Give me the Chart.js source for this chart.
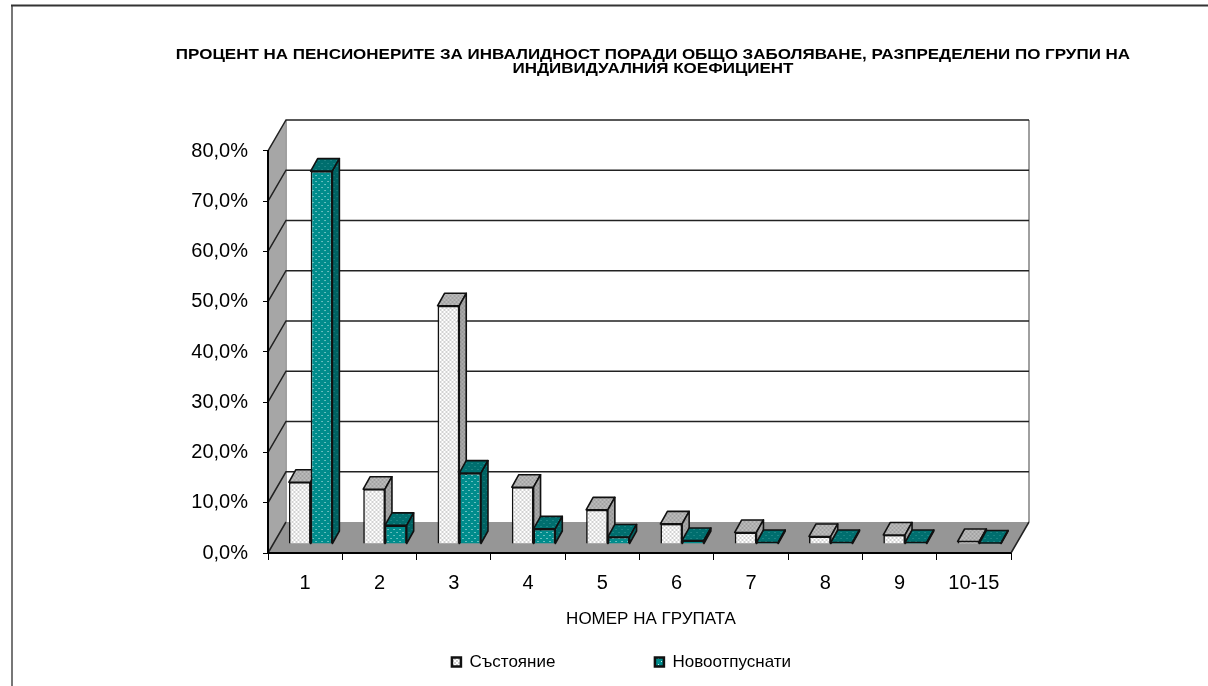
<!DOCTYPE html>
<html>
<head>
<meta charset="utf-8">
<style>
  html, body { margin: 0; padding: 0; background: #fff; overflow: hidden; }
  canvas { display: block; }
</style>
<script src="https://cdn.jsdelivr.net/npm/chart.js@4/dist/chart.umd.min.js"></script>
</head>
<body>
<canvas id="chart" width="1208" height="686"></canvas>
<script>
const categories = ['1', '2', '3', '4', '5', '6', '7', '8', '9', '10-15'];
const sastoyanie = [12.3, 10.9, 47.4, 11.3, 6.8, 4.0, 2.3, 1.5, 1.8, 0.5];
const novootpusnati = [74.2, 3.7, 14.1, 3.0, 1.4, 0.7, 0.3, 0.3, 0.3, 0.2];
const titleLines = [
  'ПРОЦЕНТ НА ПЕНСИОНЕРИТЕ ЗА ИНВАЛИДНОСТ ПОРАДИ ОБЩО ЗАБОЛЯВАНЕ, РАЗПРЕДЕЛЕНИ ПО ГРУПИ НА',
  'ИНДИВИДУАЛНИЯ КОЕФИЦИЕНТ'
];

const FONT = '"Liberation Sans", Arial, sans-serif';

// --- Fill patterns ---
function checker(base, dark) {
  const c = document.createElement('canvas');
  c.width = c.height = 4;
  const g = c.getContext('2d');
  g.fillStyle = base;
  g.fillRect(0, 0, 4, 4);
  g.fillStyle = dark;
  g.fillRect(0, 0, 2, 2);
  g.fillRect(2, 2, 2, 2);
  return g.createPattern(c, 'repeat');
}

function dots(base, dot) {
  const c = document.createElement('canvas');
  c.width = 6;
  c.height = 6;
  const g = c.getContext('2d');
  g.fillStyle = base;
  g.fillRect(0, 0, 6, 6);
  g.fillStyle = dot;
  g.fillRect(1, 1, 1, 1);
  g.fillRect(4, 4, 1, 1);
  return g.createPattern(c, 'repeat');
}

const patGrayFront = checker('#ffffff', '#d2d2d2');
const patGrayTop = checker('#bcbcbc', '#a2a2a2');
const patGraySide = checker('#acacac', '#969696');
const patTealFront = dots('#008c8c', '#d4f2f2');
const patTealTop = dots('#006e6e', '#3c9a9a');
const patTealSide = dots('#006262', '#2f8a8a');

// --- 3D box: back wall, side wall, floor and the depth faces of the bars ---
const WALL_DX = 18, WALL_DY = -31;
const BAR_DX = 5.5, BAR_DY = -9;
const DEPTH_DX = 7, DEPTH_DY = -12.5;
const TITLE_CX = 653, TITLE_STRETCH = 1.133;

function poly(c, pts, fill, stroke, lw) {
  c.beginPath();
  pts.forEach((p, i) => i ? c.lineTo(p[0], p[1]) : c.moveTo(p[0], p[1]));
  c.closePath();
  c.fillStyle = fill;
  c.fill();
  if (stroke) {
    c.strokeStyle = stroke;
    c.lineWidth = lw;
    c.lineJoin = 'round';
    c.stroke();
  }
}

const frame3d = {
  id: 'frame3d',
  afterLayout(chart) {
    // title, legend and axis title sit off the plot centre in the original
    const t = chart.titleBlock;
    t.left = 100;
    t.right = 1206;
    if (!t.stretched) {
      // the original title is wider than its height would give
      const draw = t.draw;
      t.draw = function () {
        const c = this.ctx;
        c.save();
        c.translate(TITLE_CX, 0);
        c.scale(TITLE_STRETCH, 1);
        c.translate(-TITLE_CX, 0);
        draw.call(this);
        c.restore();
      };
      t.stretched = true;
    }
    chart.legend.left = 232;
    chart.legend.right = 1011;
    chart.legend.top = 554;
    chart.scales.x.right += 23;
  },
  beforeDraw(chart) {
    const c = chart.ctx;
    const a = chart.chartArea;
    const y = chart.scales.y;
    c.save();
    // outer frame, cut off right and below in the original
    c.lineWidth = 2;
    c.strokeStyle = '#777';
    c.beginPath();
    c.moveTo(12, 5);
    c.lineTo(12, 686);
    c.stroke();
    c.strokeStyle = '#333';
    c.beginPath();
    c.moveTo(11, 5.5);
    c.lineTo(1208, 5.5);
    c.stroke();

    poly(c, [[a.left, a.top], [a.left + WALL_DX, a.top + WALL_DY], [a.left + WALL_DX, a.bottom + WALL_DY], [a.left, a.bottom]], '#a6a6a6');
    poly(c, [[a.left, a.bottom], [a.left + WALL_DX, a.bottom + WALL_DY], [a.right + WALL_DX, a.bottom + WALL_DY], [a.right, a.bottom]], '#969696');

    c.strokeStyle = '#a0a0a0';
    c.lineWidth = 2;
    c.beginPath();
    c.moveTo(a.right + WALL_DX, a.top + WALL_DY);
    c.lineTo(a.right + WALL_DX, a.bottom + WALL_DY);
    c.moveTo(a.left + WALL_DX, a.top + WALL_DY);
    c.lineTo(a.left + WALL_DX, a.bottom + WALL_DY);
    c.stroke();

    c.strokeStyle = '#222';
    c.lineWidth = 1.5;
    y.ticks.forEach(t => {
      const py = y.getPixelForValue(t.value);
      c.beginPath();
      if (t.value > 0) {
        c.moveTo(a.right + WALL_DX, py + WALL_DY);
        c.lineTo(a.left + WALL_DX, py + WALL_DY);
      } else {
        c.moveTo(a.right, py);
        c.lineTo(a.right + WALL_DX, py + WALL_DY);
        c.moveTo(a.left + WALL_DX, py + WALL_DY);
      }
      c.lineTo(a.left, py);
      c.stroke();
    });
    c.strokeStyle = '#000';
    c.lineWidth = 2;
    c.beginPath();
    c.moveTo(a.left, a.bottom);
    c.lineTo(a.right, a.bottom);
    c.stroke();
    c.restore();
  },
  beforeDatasetsDraw(chart) {
    const c = chart.ctx;
    const faces = [[patGrayTop, patGraySide], [patTealTop, patTealSide]];
    c.save();
    c.translate(BAR_DX, BAR_DY);
    chart.data.datasets.forEach((ds, i) => {
      chart.getDatasetMeta(i).data.forEach(el => {
        const { x, y, base, width } = el.getProps(['x', 'y', 'base', 'width']);
        const l = x - width / 2, r = x + width / 2;
        poly(c, [[l, y], [l + DEPTH_DX, y + DEPTH_DY], [r + DEPTH_DX, y + DEPTH_DY], [r, y]], faces[i][0], '#111', 1.6);
        poly(c, [[r, y], [r + DEPTH_DX, y + DEPTH_DY], [r + DEPTH_DX, base + DEPTH_DY], [r, base]], faces[i][1], '#111', 1.6);
      });
    });
    c.restore();
  },
  beforeDatasetDraw(chart) {
    chart.ctx.save();
    chart.ctx.translate(BAR_DX, BAR_DY);
  },
  afterDatasetDraw(chart) {
    chart.ctx.restore();
  }
};

// --- Chart ---
new Chart(document.getElementById('chart'), {
  type: 'bar',
  plugins: [frame3d],
  data: {
    labels: categories,
    datasets: [
      { label: 'Състояние', data: sastoyanie, backgroundColor: patGrayFront, borderColor: '#111', borderWidth: 1.6, clip: false },
      { label: 'Новоотпуснати', data: novootpusnati, backgroundColor: patTealFront, borderColor: '#111', borderWidth: 1.6, clip: false }
    ]
  },
  options: {
    responsive: false,
    animation: false,
    events: [],
    layout: { padding: { left: 0, right: 197, top: 0, bottom: 0 } },
    datasets: { bar: { barPercentage: 1, categoryPercentage: 0.585 } },
    plugins: {
      tooltip: { enabled: false },
      title: {
        display: true,
        text: titleLines,
        color: '#000',
        font: { family: FONT, size: 15, weight: 'bold', lineHeight: 0.933 },
        padding: { top: 48, bottom: 75 }
      },
      legend: {
        position: 'bottom',
        maxHeight: 30,
        labels: {
          color: '#000',
          font: { family: FONT, size: 17 },
          boxWidth: 9,
          boxHeight: 9,
          padding: 99.5,
          generateLabels: c => Chart.defaults.plugins.legend.labels.generateLabels(c).map(l => ({ ...l, lineWidth: 2.5 }))
        }
      }
    },
    scales: {
      x: {
        grid: { display: true, drawOnChartArea: false, color: '#000', tickLength: 7 },
        border: { display: false },
        ticks: { color: '#000', font: { family: FONT, size: 20 }, padding: 11, maxRotation: 0 },
        title: {
          display: true,
          text: 'НОМЕР НА ГРУПАТА',
          color: '#000',
          font: { family: FONT, size: 17 },
          padding: { top: 14, bottom: 26 }
        },
        afterFit(s) { s.height = 103; }
      },
      y: {
        min: 0,
        max: 80,
        grid: { display: true, drawOnChartArea: false, color: '#000', tickLength: 5 },
        border: { color: '#000', width: 2 },
        ticks: {
          stepSize: 10,
          color: '#000',
          font: { family: FONT, size: 20 },
          padding: 15,
          callback: v => v.toFixed(1).replace('.', ',') + '%'
        },
        afterFit(s) { s.width = 268; }
      }
    }
  }
});
</script>
</body>
</html>
